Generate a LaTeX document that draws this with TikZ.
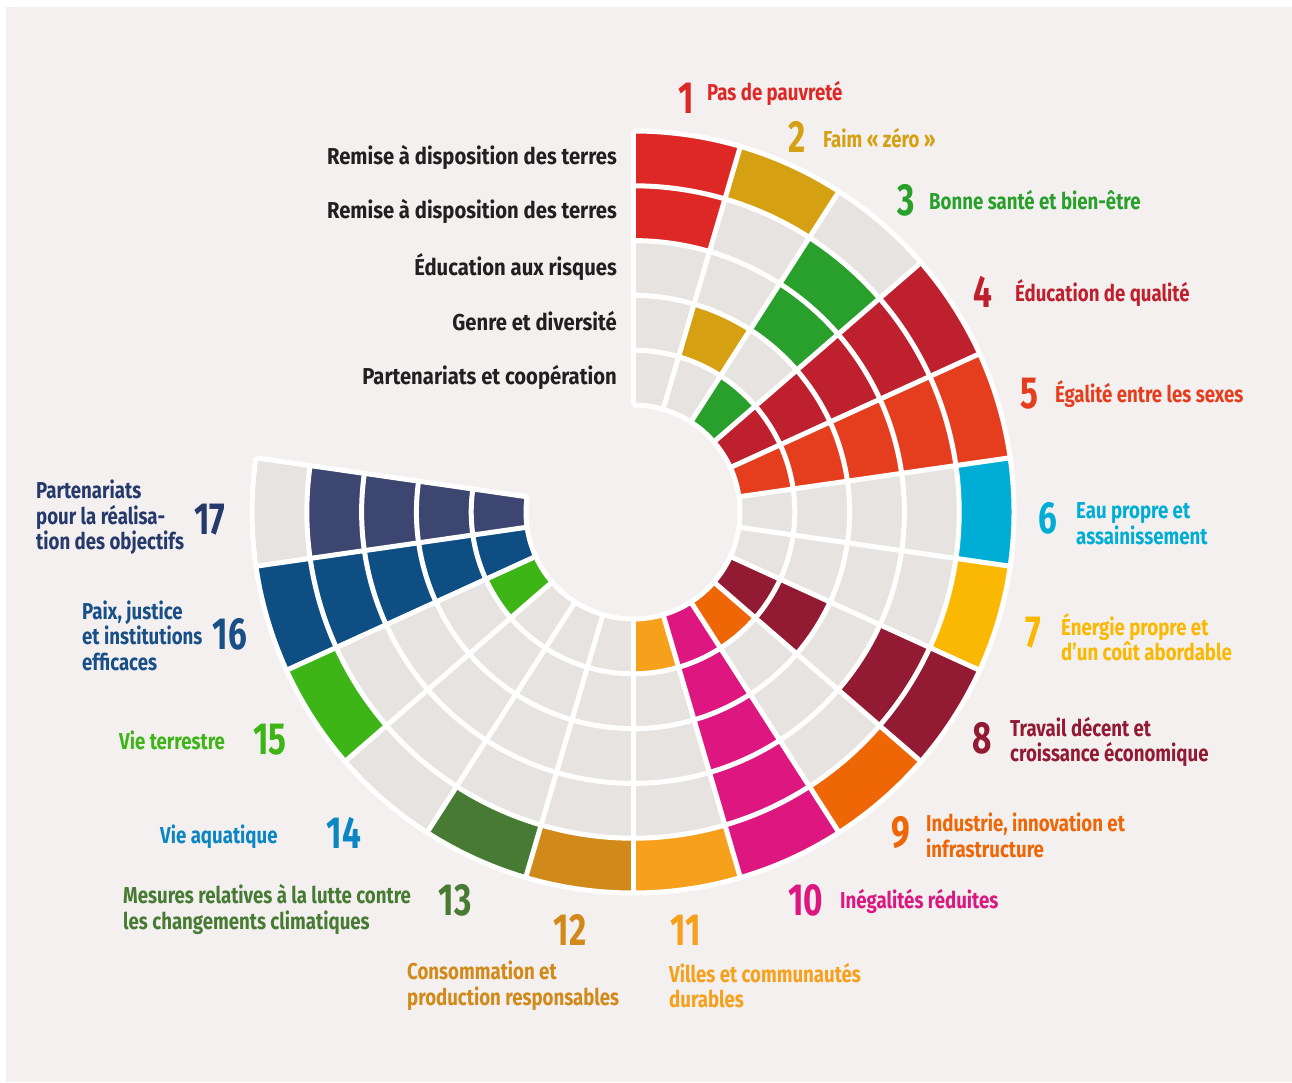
\documentclass[tikz,border=0pt]{standalone}
\usepackage{fontspec}
\setmainfont{Fira Sans}[FakeStretch=0.81]
\newfontfamily\ringfont{Fira Sans}[FakeStretch=0.88]
\newfontfamily\numfont{Fira Sans}[FakeStretch=0.74]
\definecolor{bg}{HTML}{F3F0EF}
\definecolor{gcell}{HTML}{E6E3E0}
\definecolor{c1}{HTML}{DE2826}
\definecolor{c2}{HTML}{D5A011}
\definecolor{c3}{HTML}{29A02C}
\definecolor{c4}{HTML}{BF202E}
\definecolor{c5}{HTML}{E53E1F}
\definecolor{c6}{HTML}{00ADD5}
\definecolor{c7}{HTML}{FBB802}
\definecolor{c8}{HTML}{921A33}
\definecolor{c9}{HTML}{EE6606}
\definecolor{c10}{HTML}{DD1680}
\definecolor{c11}{HTML}{F6A01C}
\definecolor{c12}{HTML}{D18A19}
\definecolor{c13}{HTML}{477A32}
\definecolor{c14}{HTML}{0B86C3}
\definecolor{c15}{HTML}{3EB517}
\definecolor{c16}{HTML}{0E4E83}
\definecolor{c17}{HTML}{3D4571}
\definecolor{t17}{HTML}{25396A}
\definecolor{t16}{HTML}{184F86}
\definecolor{ink}{HTML}{231F20}
\begin{document}
\begin{tikzpicture}[x=1pt,y=1pt,
  num/.style={inner sep=0pt,anchor=center,font=\numfont\fontsize{45}{45}\selectfont\bfseries},
  lbl/.style={inner sep=0pt,anchor=west,align=left,font=\fontsize{23}{25.5}\selectfont\bfseries},
  ring/.style={inner sep=0pt,anchor=east,align=right,text=ink,font=\ringfont\fontsize{23}{25}\selectfont\bfseries},
  gap/.style={white,line width=5pt,line cap=square}]
\useasboundingbox (0,0) rectangle (1292,1082);
\fill[white] (0,0) rectangle (1292,1082);
\fill[bg] (6,0) rectangle (1292,1075);
\coordinate (O) at (633,570);
\def\th{16.363636}
% cells
\foreach \s/\col/\pat in {1/c1/{1,1,0,0,0},2/c2/{1,0,0,1,0},3/c3/{0,1,1,0,1},4/c4/{1,1,1,1,1},
  5/c5/{1,1,1,1,1},6/c6/{1,0,0,0,0},7/c7/{1,0,0,0,0},8/c8/{1,1,0,1,1},9/c9/{1,0,0,0,1},
  10/c10/{1,1,1,1,1},11/c11/{1,0,0,0,1},12/c12/{1,0,0,0,0},13/c13/{1,0,0,0,0},
  14/c14/{0,0,0,0,0},15/c15/{1,0,0,0,1},16/c16/{1,1,1,1,1},17/c17/{0,1,1,1,1}}{
  \pgfmathsetmacro\aa{90-(\s-1)*\th}
  \pgfmathsetmacro\ab{90-\s*\th}
  \foreach \v [count=\j] in \pat {
    \pgfmathsetmacro\ro{381-(\j-1)*54.8}
    \pgfmathsetmacro\ri{\ro-54.8}
    \def\fc{gcell}
    \ifnum\v=1 \edef\fc{\col}\fi
    \fill[\fc] ([shift={(O)}]\aa:\ro) arc[start angle=\aa,end angle=\ab,radius=\ro]
      -- ([shift={(O)}]\ab:\ri) arc[start angle=\ab,end angle=\aa,radius=\ri] -- cycle;
  }
}
% white separators
\foreach \k in {0,...,17}{
  \pgfmathsetmacro\a{90-\k*\th}
  \draw[gap] ([shift={(O)}]\a:107) -- ([shift={(O)}]\a:381);
}
\foreach \j in {0,...,5}{
  \pgfmathsetmacro\r{381-\j*54.8}
  \draw[gap] ([shift={(O)}]90:\r) arc[start angle=90,end angle={90-17*\th},radius=\r];
}
% ring labels
\node[ring] (r1) at (617,925) {Remise à disposition des terres};
\node[ring] (r2) at (617,871) {Remise à disposition des terres};
\node[ring] (r3) at (617,815) {Éducation aux risques};
\node[ring] (r4) at (617,761) {Genre et diversité};
\node[ring] (r5) at (617,705) {Partenariats et coopération};
% goal labels
\node[num,text=c1] (n1) at (686,984) {1};
\node[lbl,text=c1] (t1) at (707,989) {Pas de pauvreté};
\node[num,text=c2] (n2) at (797,945) {2};
\node[lbl,text=c2] (t2) at (823,944) {Faim « zéro »};
\node[num,text=c3] (n3) at (906,882) {3};
\node[lbl,text=c3] (t3) at (929,882) {Bonne santé et bien-être};
\node[num,text=c4] (n4) at (983,790) {4};
\node[lbl,text=c4] (t4) at (1015,789) {Éducation de qualité};
\node[num,text=c5] (n5) at (1029,688) {5};
\node[lbl,text=c5] (t5) at (1055,688) {Égalité entre les sexes};
\node[num,text=c6] (n6) at (1048,564) {6};
\node[lbl,text=c6] (t6) at (1076,558.5) {Eau propre et\\assainissement};
\node[num,text=c7] (n7) at (1033,449) {7};
\node[lbl,text=c7] (t7) at (1061,445) {Énergie propre et\\d’un coût abordable};
\node[num,text=c8] (n8) at (982,344) {8};
\node[lbl,text=c8] (t8) at (1010,340) {Travail décent et\\croissance économique};
\node[num,text=c9] (n9) at (901,249) {9};
\node[lbl,text=c9] (t9) at (926,246.5) {Industrie, innovation et\\infrastructure};
\node[num,text=c10] (n10) at (806,182) {10};
\node[lbl,text=c10] (t10) at (840,181) {Inégalités réduites};
\node[num,text=c11] (n11) at (686,152) {11};
\node[lbl,text=c11] (t11) at (669,96.5) {Villes et communautés\\durables};
\node[num,text=c12] (n12) at (570,152) {12};
\node[lbl,text=c12] (t12) at (407,96.5) {Consommation et\\production responsables};
\node[num,text=c13] (n13) at (455,182) {13};
\node[lbl,text=c13] (t13) at (123,172.5) {Mesures relatives à la lutte contre\\les changements climatiques};
\node[num,text=c14] (n14) at (344,249) {14};
\node[lbl,text=c14] (t14) at (160,245) {Vie aquatique};
\node[num,text=c15] (n15) at (270,342) {15};
\node[lbl,text=c15] (t15) at (119,342) {Vie terrestre};
\node[num,text=t16] (n16) at (230,448) {16};
\node[lbl,text=t16] (t16) at (82,446.5) {Paix, justice\\et institutions\\efficaces};
\node[num,text=t17] (n17) at (210,562) {17};
\node[lbl,text=t17] (t17) at (36,564.5) {Partenariats\\pour la réalisa-\\tion des objectifs};
\end{tikzpicture}
\end{document}
